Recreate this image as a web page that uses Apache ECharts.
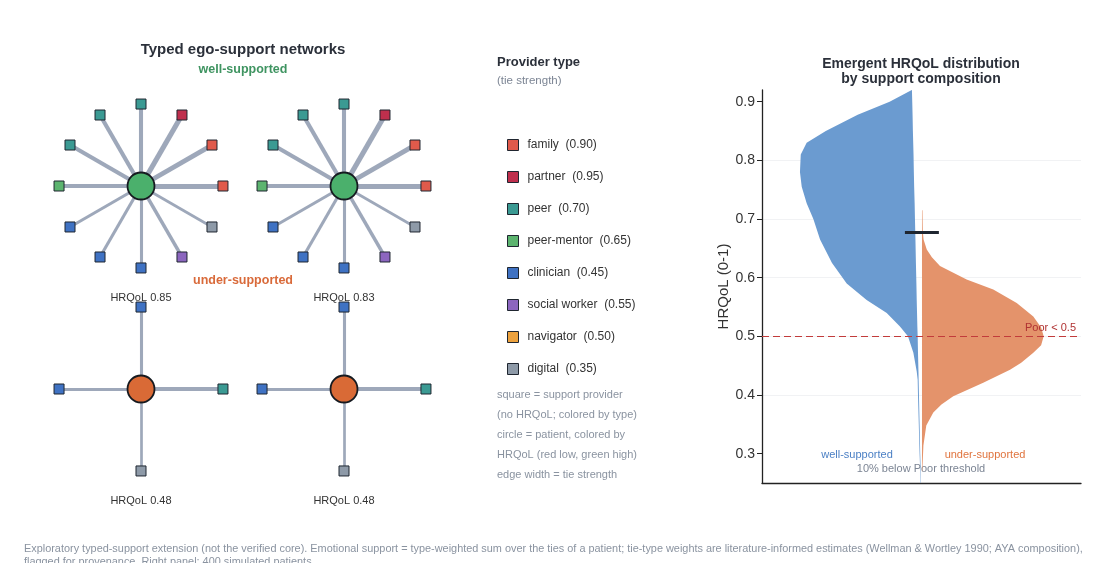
<!DOCTYPE html>
<html>
<head>
<meta charset="utf-8">
<script src="https://cdn.jsdelivr.net/npm/echarts@6/dist/echarts.min.js"></script>
<style>
html, body { margin: 0; padding: 0; background: #fff; }
#main { width: 1104px; height: 563px; }
</style>
</head>
<body>
<div id="main"></div>
<script>
// provider types and their tie strengths
var providerTypes = ['family', 'partner', 'peer', 'peer-mentor', 'clinician', 'social worker', 'navigator', 'digital'];
var tieStrength = [0.90, 0.95, 0.70, 0.65, 0.45, 0.55, 0.50, 0.35];
var typeColors = ['#e05a4b', '#bf2f4d', '#3b9a93', '#5cb46f', '#3f72c3', '#8c66bf', '#eda23e', '#8e9aa8'];

// four example ego networks, ties listed clockwise from the top
var patientHrqol = [0.85, 0.83, 0.48, 0.48];
var networkTies = [
    ['peer', 'partner', 'family', 'family', 'digital', 'social worker', 'clinician', 'clinician', 'clinician', 'peer-mentor', 'peer', 'peer'],
    ['peer', 'partner', 'family', 'family', 'digital', 'social worker', 'clinician', 'clinician', 'clinician', 'peer-mentor', 'peer', 'peer'],
    ['clinician', 'peer', 'digital', 'clinician'],
    ['clinician', 'peer', 'digital', 'clinician']
];

// split violin outlines (HRQoL level, outer / inner half-width)
var wellLevels = [0.92, 0.90, 0.878, 0.85, 0.83, 0.81, 0.78, 0.755, 0.727, 0.70, 0.665, 0.625, 0.59, 0.562, 0.54, 0.517, 0.50, 0.472, 0.44, 0.426, 0.40, 0.35, 0.30, 0.25];
var wellOuter = [-0.061, -0.20, -0.40, -0.60, -0.72, -0.757, -0.762, -0.751, -0.72, -0.678, -0.636, -0.561, -0.469, -0.344, -0.218, -0.135, -0.085, -0.051, -0.030, -0.024, -0.022, -0.017, -0.012, -0.005];
var wellInner = [-0.060, -0.058, -0.056, -0.054, -0.052, -0.050, -0.048, -0.046, -0.043, -0.041, -0.038, -0.035, -0.032, -0.030, -0.028, -0.026, -0.024, -0.022, -0.019, -0.018, -0.016, -0.012, -0.008, -0.003];

var underLevels = [0.715, 0.68, 0.665, 0.648, 0.635, 0.62, 0.597, 0.58, 0.557, 0.534, 0.515, 0.50, 0.485, 0.472, 0.455, 0.443, 0.421, 0.398, 0.384, 0.37, 0.348, 0.314, 0.27];
var underOuter = [0.006, 0.008, 0.013, 0.033, 0.065, 0.116, 0.283, 0.45, 0.597, 0.701, 0.75, 0.766, 0.75, 0.701, 0.625, 0.555, 0.387, 0.199, 0.125, 0.074, 0.03, 0.012, 0.005];
var underInner = [0.003, 0.003, 0.003, 0.003, 0.003, 0.003, 0.003, 0.003, 0.003, 0.003, 0.003, 0.003, 0.003, 0.003, 0.003, 0.003, 0.003, 0.003, 0.003, 0.003, 0.003, 0.003, 0.003];

var yTicks = [0.3, 0.4, 0.5, 0.6, 0.7, 0.8, 0.9];
var poorThreshold = 0.5;
var meanMarker = 0.678;

var FONT = '"Liberation Sans", Arial, sans-serif';
var netCenters = [[141, 186], [344, 186], [141, 389], [344, 389]];

var categories = providerTypes.map(function (t, i) {
    return { name: t, itemStyle: { color: typeColors[i], borderColor: '#1f2630', borderWidth: 1 } };
});

function hrqolColor(v) {
    return v >= 0.65 ? '#4bb06c' : '#d96a36';
}

var grids = [], xAxes = [], yAxes = [], series = [], graphics = [];

netCenters.forEach(function (c, k) {
    grids.push({ left: c[0] - 100, top: c[1] - 100, width: 200, height: 200 });
    xAxes.push({ gridIndex: k, type: 'value', min: -1.22, max: 1.22, show: false });
    yAxes.push({ gridIndex: k, type: 'value', min: -1.22, max: 1.22, show: false });

    var ties = networkTies[k];
    var nodes = [{
        name: 'patient' + k, value: [0, 0], symbol: 'circle', symbolSize: 27,
        itemStyle: { color: hrqolColor(patientHrqol[k]), borderColor: '#161a20', borderWidth: 1.8 }
    }];
    var links = [];
    ties.forEach(function (t, i) {
        var ti = providerTypes.indexOf(t);
        var ang = Math.PI / 2 - i * 2 * Math.PI / ties.length;
        nodes.push({
            name: 'n' + k + '_' + i, value: [Math.cos(ang), Math.sin(ang)],
            category: ti, symbol: 'rect', symbolSize: 10
        });
        links.push({ source: 0, target: i + 1, lineStyle: { width: 1.3 + 4 * tieStrength[ti] } });
    });
    series.push({
        type: 'graph',
        coordinateSystem: 'cartesian2d',
        xAxisIndex: k,
        yAxisIndex: k,
        categories: categories,
        data: nodes,
        links: links,
        silent: true,
        label: { show: false },
        lineStyle: { color: '#9ea8ba', opacity: 1, curveness: 0 },
        emphasis: { disabled: true }
    });

    graphics.push({
        type: 'text', x: c[0], y: c[1] + 112,
        style: { text: 'HRQoL ' + patientHrqol[k].toFixed(2), font: '11px ' + FONT, fill: '#333', textAlign: 'center', textVerticalAlign: 'middle' }
    });
});

// violin panel
grids.push({ left: 762, top: 90, width: 319, height: 393 });
xAxes.push({
    gridIndex: 4, type: 'value', min: -1, max: 1,
    axisLine: { show: true, onZero: false, lineStyle: { color: '#222', width: 1.3 } },
    axisTick: { show: false }, axisLabel: { show: false }, splitLine: { show: false }
});
yAxes.push({
    gridIndex: 4, type: 'value', min: 0.25, max: 0.92,
    name: 'HRQoL (0-1)', nameLocation: 'middle', nameGap: 30,
    nameTextStyle: { fontSize: 15, color: '#333', fontFamily: FONT },
    axisLine: { show: true, onZero: false, lineStyle: { color: '#222', width: 1.3 } },
    axisTick: { show: true, length: 5, customValues: yTicks, lineStyle: { color: '#222' } },
    axisLabel: { customValues: yTicks, fontSize: 14, color: '#333', fontFamily: FONT, margin: 7 },
    splitLine: { show: true, showMinLine: false, showMaxLine: false, lineStyle: { color: '#f1f2f4', width: 1 } }
});

function violinItem(levels, outer, inner, color) {
    return function (params, api) {
        var pts = [];
        for (var i = 0; i < levels.length; i++) pts.push(api.coord([outer[i], levels[i]]));
        for (var j = levels.length - 1; j >= 0; j--) pts.push(api.coord([inner[j], levels[j]]));
        return { type: 'polygon', shape: { points: pts }, style: { fill: color } };
    };
}

series.push({
    type: 'custom',
    name: 'well-supported',
    xAxisIndex: 4, yAxisIndex: 4,
    silent: true,
    data: [[0, 0.6]],
    renderItem: violinItem(wellLevels, wellOuter, wellInner, '#6b9bd0'),
    markLine: {
        silent: true, symbol: 'none',
        lineStyle: { color: '#c23b3b', type: [7, 4], width: 1 },
        label: { show: true, formatter: 'Poor < 0.5', position: 'insideEndTop', color: '#b03232', fontSize: 11, fontFamily: FONT, distance: [5, 3] },
        data: [{ yAxis: poorThreshold }]
    }
});
series.push({
    type: 'custom',
    name: 'under-supported',
    xAxisIndex: 4, yAxisIndex: 4,
    silent: true,
    data: [[0, 0.5]],
    renderItem: violinItem(underLevels, underOuter, underInner, '#e4936b'),
    markLine: {
        silent: true, symbol: 'none',
        lineStyle: { color: '#1f2630', type: 'solid', width: 3 },
        label: { show: false },
        data: [[{ coord: [-0.104, meanMarker] }, { coord: [0.109, meanMarker] }]]
    }
});

graphics.push(
    { type: 'text', x: 243, y: 50, style: { text: 'Typed ego-support networks', font: 'bold 15px ' + FONT, fill: '#2b303a', textAlign: 'center', textVerticalAlign: 'middle' } },
    { type: 'text', x: 243, y: 70, style: { text: 'well-supported', font: 'bold 12.5px ' + FONT, fill: '#3f9461', textAlign: 'center', textVerticalAlign: 'middle' } },
    { type: 'text', x: 243, y: 281, style: { text: 'under-supported', font: 'bold 12.5px ' + FONT, fill: '#d96a3a', textAlign: 'center', textVerticalAlign: 'middle' } },
    { type: 'text', x: 497, y: 62, style: { text: 'Provider type', font: 'bold 13px ' + FONT, fill: '#2b303a', textVerticalAlign: 'middle' } },
    { type: 'text', x: 497, y: 81, style: { text: '(tie strength)', font: '11.5px ' + FONT, fill: '#7c8594', textVerticalAlign: 'middle' } },
    { type: 'text', x: 497, y: 385, style: {
        text: 'square = support provider\n(no HRQoL; colored by type)\ncircle = patient, colored by\nHRQoL (red low, green high)\nedge width = tie strength',
        font: '11px ' + FONT, fill: '#8a93a0', lineHeight: 20 } },
    { type: 'text', x: 921, y: 72, style: { text: 'Emergent HRQoL distribution\nby support composition', font: 'bold 14px ' + FONT, fill: '#2b303a', textAlign: 'center', textVerticalAlign: 'middle', lineHeight: 15 } },
    { type: 'text', x: 857, y: 455, style: { text: 'well-supported', font: '11px ' + FONT, fill: '#4a7fc4', textAlign: 'center', textVerticalAlign: 'middle' } },
    { type: 'text', x: 985, y: 455, style: { text: 'under-supported', font: '11px ' + FONT, fill: '#e0743e', textAlign: 'center', textVerticalAlign: 'middle' } },
    { type: 'text', x: 921, y: 469, style: { text: '10% below Poor threshold', font: '11px ' + FONT, fill: '#7c8594', textAlign: 'center', textVerticalAlign: 'middle' } },
    { type: 'text', x: 24, y: 542, style: {
        text: 'Exploratory typed-support extension (not the verified core). Emotional support = type-weighted sum over the ties of a patient; tie-type weights are literature-informed estimates (Wellman & Wortley 1990; AYA composition),\nflagged for provenance. Right panel: 400 simulated patients.',
        font: '10.9px ' + FONT, fill: '#8a93a0', lineHeight: 13 } }
);

var chart = echarts.init(document.getElementById('main'));
chart.setOption({
    animation: false,
    backgroundColor: '#fff',
    grid: grids,
    xAxis: xAxes,
    yAxis: yAxes,
    legend: {
        orient: 'vertical',
        left: 502, top: 134,
        itemWidth: 11, itemHeight: 11, itemGap: 20,
        icon: 'rect',
        selectedMode: false,
        data: providerTypes,
        itemStyle: { borderColor: '#1f2630', borderWidth: 1 },
        formatter: function (name) {
            return name + '  (' + tieStrength[providerTypes.indexOf(name)].toFixed(2) + ')';
        },
        textStyle: { fontSize: 12, color: '#333', fontFamily: FONT, lineHeight: 12, padding: [0, 0, 0, 4] }
    },
    graphic: graphics,
    series: series
});
</script>
</body>
</html>
